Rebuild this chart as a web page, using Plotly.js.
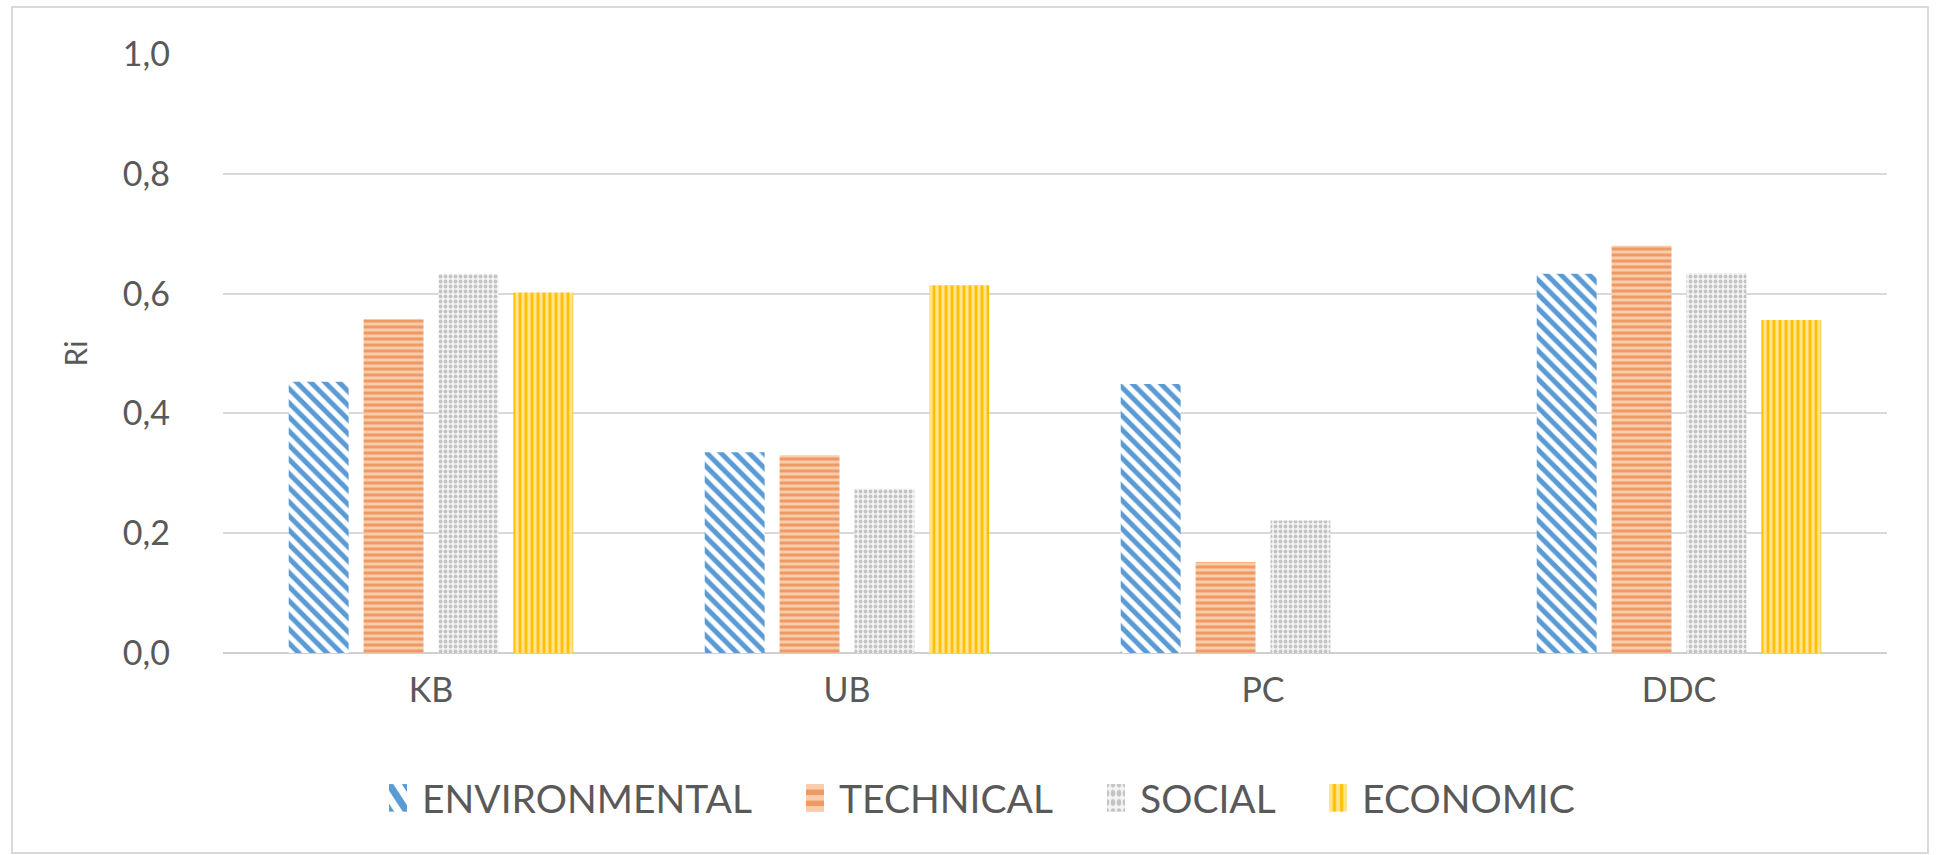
<!DOCTYPE html>
<html>
<head>
<meta charset="utf-8">
<script src="https://cdn.plot.ly/plotly-3.0.1.min.js"></script>
<style>
  html, body { margin: 0; padding: 0; background: #ffffff; }
  #chart { width: 1939px; height: 855px; }
</style>
</head>
<body>
<div id="chart"></div>
<script>
// Categories (alternatives) and criterion scores Ri
const categories = ['KB', 'UB', 'PC', 'DDC'];
const environmental = [0.453, 0.335, 0.449, 0.633];
const technical     = [0.557, 0.330, 0.152, 0.680];
const social        = [0.633, 0.274, 0.221, 0.634];
const economic      = [0.602, 0.614, null, 0.556];

const yTickVals = [0, 0.2, 0.4, 0.6, 0.8, 1.0];
const yTickText = ['0,0', '0,2', '0,4', '0,6', '0,8', '1,0'];

const FONT = 'Lato, "Open Sans", sans-serif';
const TEXT_COLOR = '#595959';

// Plot area in pixels (used to place legends in paper units)
const W = 1939, H = 855;
const M = { l: 223, r: 52, t: 54, b: 202 };
const plotW = W - M.l - M.r;
const plotH = H - M.t - M.b;
const px2paperX = px => (px - M.l) / plotW;
const px2paperY = py => (H - M.b - py) / plotH;

function series(name, values, bg, fg, shape, size, solidity, legendId) {
  return {
    type: 'bar',
    name: name,
    x: categories,
    y: values,
    legend: legendId,
    marker: {
      color: bg,
      line: { width: 0 },
      pattern: {
        shape: shape,
        fillmode: 'replace',
        bgcolor: bg,
        fgcolor: fg,
        size: size,
        solidity: solidity
      }
    },
    hoverinfo: 'x+y+name'
  };
}

const data = [
  series('ENVIRONMENTAL', environmental, '#ffffff', '#5B9BD5', '\\', 10, 0.5,  'legend'),
  series('TECHNICAL',     technical,     '#F8CBAD', '#EE9A62', '-',  6,  0.5,  'legend2'),
  series('SOCIAL',        social,        '#F4F4F4', '#C4C4C4', '.',  5,  0.45, 'legend3'),
  series('ECONOMIC',      economic,      '#FFE38F', '#FFC000', '|',  6,  0.45, 'legend4')
];

// One legend per series so each entry sits at its own spot along the bottom row
function legendAt(textStartPx) {
  return {
    orientation: 'h',
    x: px2paperX(textStartPx - 40), xanchor: 'left',
    y: px2paperY(798), yanchor: 'middle',
    font: { family: FONT, size: 39, color: TEXT_COLOR },
    itemwidth: 30,
    bgcolor: 'rgba(0,0,0,0)',
    borderwidth: 0
  };
}

const layout = {
  width: W,
  height: H,
  margin: M,
  paper_bgcolor: '#ffffff',
  plot_bgcolor: '#ffffff',
  font: { family: FONT, color: TEXT_COLOR, size: 34 },
  barmode: 'group',
  bargap: 0.28,
  bargroupgap: 0.2,
  showlegend: true,
  legend:  legendAt(422),
  legend2: legendAt(839),
  legend3: legendAt(1140),
  legend4: legendAt(1362),
  xaxis: {
    type: 'category',
    showgrid: false,
    showline: false,
    zeroline: false,
    ticks: '',
    tickfont: { family: FONT, size: 34, color: TEXT_COLOR },
    ticklabelstandoff: 14,
    fixedrange: true
  },
  yaxis: {
    range: [0, 1.0],
    tickvals: yTickVals,
    ticktext: yTickText,
    showgrid: true,
    gridcolor: '#D9D9D9',
    gridwidth: 2,
    zeroline: true,
    zerolinecolor: '#D0D0D0',
    zerolinewidth: 2,
    showline: false,
    ticks: '',
    ticklabelstandoff: 52,
    tickfont: { family: FONT, size: 34, color: TEXT_COLOR },
    title: { text: 'Ri', font: { family: FONT, size: 30, color: TEXT_COLOR }, standoff: 26 },
    fixedrange: true
  },
  shapes: [{
    type: 'rect',
    xref: 'paper', yref: 'paper',
    x0: px2paperX(12), x1: px2paperX(1928),
    y0: px2paperY(853), y1: px2paperY(7),
    line: { color: '#D9D9D9', width: 2 },
    fillcolor: 'rgba(0,0,0,0)',
    layer: 'below'
  }]
};

Plotly.newPlot('chart', data, layout, { displayModeBar: false, staticPlot: true }).then(gd => {
  // Taller legend swatches, set closer to their labels
  gd.querySelectorAll('.legendpoints path').forEach(p => {
    p.setAttribute('transform', 'translate(16,0) scale(1.5,2.3)');
  });
});
</script>
</body>
</html>
